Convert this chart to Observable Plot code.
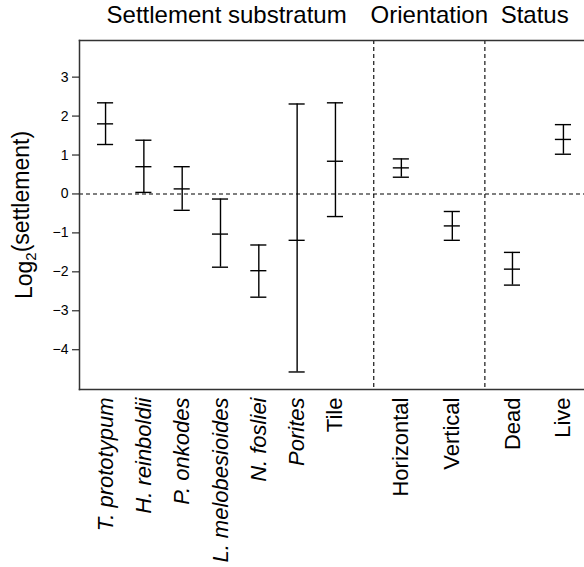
<!DOCTYPE html>
<html>
<head>
<meta charset="utf-8">
<script src="https://cdn.jsdelivr.net/npm/d3@7"></script>
<script src="https://cdn.jsdelivr.net/npm/@observablehq/plot@0.6"></script>
<style>
  html, body { margin: 0; padding: 0; background: #fff; }
  #chart { width: 584px; height: 567px; }
</style>
</head>
<body>
<div id="chart"></div>
<script>
// ---- data ----
const groupNames = ["Settlement substratum", "Orientation", "Status"];
const substrata = ["T. prototypum", "H. reinboldii", "P. onkodes", "L. melobesioides", "N. fosliei", "Porites", "Tile"];
const orientations = ["Horizontal", "Vertical"];
const statuses = ["Dead", "Live"];
const means = [1.80, 0.70, 0.13, -1.03, -1.97, -1.19, 0.84, 0.67, -0.82, -1.93, 1.40];
const lower = [1.27, 0.04, -0.42, -1.88, -2.65, -4.57, -0.58, 0.43, -1.19, -2.34, 1.02];
const upper = [2.34, 1.38, 0.70, -0.13, -1.31, 2.31, 2.34, 0.90, -0.45, -1.50, 1.78];
const yTicks = [-4, -3, -2, -1, 0, 1, 2, 3];
const yLabel = "Log2(settlement)";

// ---- layout (slot positions along x, computed from group structure) ----
const groups = [substrata, orientations, statuses];
const groupStep = [1, 1.33, 1.33];
const groupLead = [0, 0.72, 0.72];
const groupTail = [1, 0.85, 0.55];
const rows = [];
const dividers = [];
const groupCenters = [];
let cursor = 0, k = 0, start = -0.68;
groups.forEach((items, g) => {
  const first = cursor + groupLead[g];
  items.forEach((name, j) => {
    rows.push({name, group: groupNames[g], pos: first + j * groupStep[g],
      mean: means[k], lower: lower[k], upper: upper[k],
      italic: g === 0 && name !== "Tile"});
    k++;
  });
  const last = first + (items.length - 1) * groupStep[g];
  const end = last + groupTail[g];
  groupCenters.push({name: groupNames[g], pos: (start + end) / 2});
  if (g < groups.length - 1) dividers.push(end);
  start = end;
  cursor = end;
});
const xDomain = [-0.68, cursor];
const cap = 0.21;
const capRows = rows.flatMap(d => [
  {pos: d.pos, v: d.lower}, {pos: d.pos, v: d.mean}, {pos: d.pos, v: d.upper}
]);

const font = "'Liberation Sans', Arial, Helvetica, sans-serif";

const chart = Plot.plot({
  width: 584,
  height: 567,
  marginLeft: 79,
  marginRight: 0,
  marginTop: 40,
  marginBottom: 178,
  style: {fontFamily: font, background: "#fff", color: "#000"},
  x: {domain: xDomain, axis: null},
  y: {domain: [-5.02, 3.94]},
  marks: [
    Plot.ruleY([0], {stroke: "#000", strokeWidth: 1.1, strokeDasharray: "4,3"}),
    Plot.ruleX(dividers, {stroke: "#000", strokeWidth: 1.1, strokeDasharray: "4,3"}),
    Plot.ruleX(rows, {x: "pos", y1: "lower", y2: "upper", stroke: "#000", strokeWidth: 1.4}),
    Plot.ruleY(capRows, {y: "v", x1: d => d.pos - cap, x2: d => d.pos + cap, stroke: "#000", strokeWidth: 1.4}),
    Plot.frame({anchor: "top", stroke: "#333", strokeWidth: 1.5}),
    Plot.frame({anchor: "bottom", stroke: "#333", strokeWidth: 1.5}),
    Plot.frame({anchor: "left", stroke: "#333", strokeWidth: 1.5}),
    Plot.axisY({ticks: yTicks, tickSize: 7, tickPadding: 4, fontSize: 14, label: null, stroke: "#000", tickFormat: d => d < 0 ? "\u2212" + Math.abs(d) : String(d)}),
    Plot.text(rows.filter(d => d.italic), {x: "pos", text: "name", frameAnchor: "bottom", rotate: -90, textAnchor: "end", lineAnchor: "middle", dy: 8, fontSize: 22, fontStyle: "italic", fill: "#000"}),
    Plot.text(rows.filter(d => !d.italic), {x: "pos", text: "name", frameAnchor: "bottom", rotate: -90, textAnchor: "end", lineAnchor: "middle", dy: 8, fontSize: 22, fill: "#000"}),
    Plot.text(groupCenters, {x: "pos", text: "name", frameAnchor: "top", lineAnchor: "middle", dy: -25, fontSize: 24, fill: "#000"}),
    Plot.text([yLabel], {frameAnchor: "left", rotate: -90, textAnchor: "middle", lineAnchor: "middle", dx: -55, fontSize: 23, fill: "#000"})
  ]
});
document.getElementById("chart").appendChild(chart);

// subscript the 2 in the y label
d3.select(chart).selectAll("text").filter(function() { return this.textContent === yLabel; })
  .each(function() {
    const t = d3.select(this);
    t.text(null);
    t.append("tspan").text("Log");
    t.append("tspan").attr("dy", "0.3em").attr("font-size", "15").text("2");
    t.append("tspan").attr("dy", "-0.3em").text("(settlement)");
  });
</script>
</body>
</html>
